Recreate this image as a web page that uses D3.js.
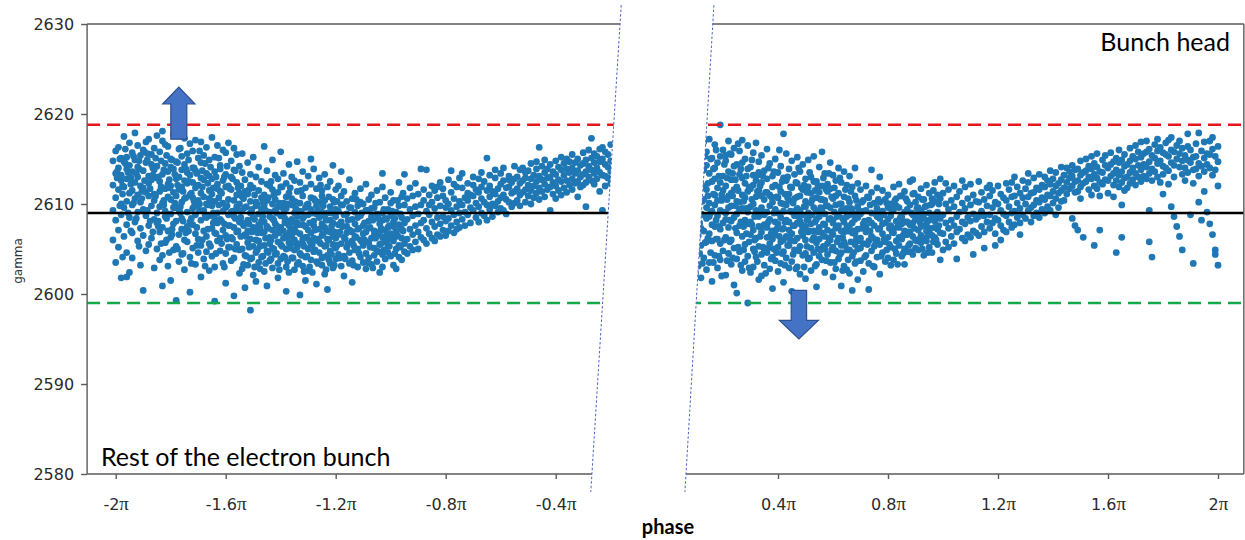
<!DOCTYPE html>
<html>
<head>
<meta charset="utf-8">
<script src="https://cdn.jsdelivr.net/npm/d3@7"></script>
<style>
  body { margin: 0; background: #fff; }
  svg { display: block; }
</style>
</head>
<body>
<svg id="chart" width="1245" height="540"></svg>
<script>
// axis ticks
const gammaTicks = [2580, 2590, 2600, 2610, 2620, 2630];
const leftTicks = [-2, -1.6, -1.2, -0.8, -0.4];
const leftTickLabels = ["-2", "-1.6", "-1.2", "-0.8", "-0.4"];
const rightTicks = [0.4, 0.8, 1.2, 1.6, 2];
const rightTickLabels = ["0.4", "0.8", "1.2", "1.6", "2"];

// reference lines (gamma)
const upperLimit = 2618.8;
const centerLine = 2609.0;
const lowerLimit = 2599.0;

// panel extents (phase / π) and the slanted break edges [phase, gamma]
const leftStart = -2.104;
const rightEnd = 2.094;
const leftBreak = [[-0.1618, 2632.1], [-0.2724, 2578]];
const rightBreak = [[0.1669, 2632.1], [0.0615, 2578]];

// arrows: phase, tail gamma, tip gamma
const arrowUp = [-1.7705, 2617.2, 2623.0];
const arrowDown = [0.476, 2600.4, 2595.0];

// scatter, phase (in units of π) with the gamma values read in that column
const leftColumns = [
  [-2.01, [2614.8, 2612.1, 2609.3, 2606.0]],
  [-2.00, [2615.9, 2613.4, 2610.7, 2608.2, 2603.5]],
  [-1.99, [2616.3, 2614.0, 2611.6, 2607.1, 2605.2]],
  [-1.98, [2613.2, 2610.0, 2608.8, 2612.6, 2601.8, 2615.1]],
  [-1.97, [2617.5, 2614.7, 2611.9, 2609.6, 2606.4]],
  [-1.96, [2615.2, 2612.8, 2604.6, 2610.3, 2613.9, 2607.7, 2601.9]],
  [-1.95, [2616.8, 2611.2, 2608.5, 2614.3, 2602.4]],
  [-1.94, [2613.6, 2609.9, 2606.8, 2615.7, 2611.5, 2604.0]],
  [-1.93, [2617.9, 2612.4, 2614.9, 2608.0, 2610.6]],
  [-1.92, [2614.1, 2616.5, 2611.0, 2605.9, 2609.1, 2613.0]],
  [-1.91, [2612.0, 2615.4, 2607.3, 2610.2, 2603.2]],
  [-1.90, [2616.0, 2613.7, 2609.4, 2606.5, 2611.8, 2600.4]],
  [-1.89, [2614.6, 2611.3, 2608.7, 2616.9, 2604.8]],
  [-1.88, [2617.2, 2613.1, 2610.9, 2607.6, 2612.3, 2605.5]],
  [-1.87, [2615.5, 2609.8, 2612.7, 2606.2, 2614.4]],
  [-1.86, [2613.8, 2616.2, 2611.1, 2608.3, 2602.9, 2610.4]],
  [-1.85, [2617.6, 2614.2, 2609.0, 2612.9, 2605.0, 2607.9]],
  [-1.84, [2615.8, 2612.5, 2609.7, 2606.9, 2603.8, 2611.4]],
  [-1.83, [2618.1, 2617.0, 2613.3, 2610.1, 2607.4, 2604.3, 2600.9]],
  [-1.82, [2614.5, 2611.7, 2608.6, 2605.7, 2616.6, 2609.2]],
  [-1.81, [2616.4, 2613.6, 2607.0, 2603.1, 2610.8, 2612.2]],
  [-1.80, [2615.0, 2612.0, 2608.9, 2606.3, 2601.5, 2614.1, 2610.5]],
  [-1.79, [2617.7, 2613.9, 2611.3, 2607.8, 2604.9, 2609.6]],
  [-1.78, [2614.7, 2610.9, 2608.1, 2605.3, 2612.8, 2599.3]],
  [-1.77, [2616.1, 2613.0, 2609.4, 2606.6, 2603.6, 2611.6]],
  [-1.76, [2615.3, 2611.9, 2608.4, 2604.4, 2613.8, 2607.2, 2610.2]],
  [-1.75, [2617.3, 2614.4, 2610.6, 2606.0, 2602.7, 2612.6]],
  [-1.74, [2615.6, 2612.3, 2609.1, 2605.8, 2607.5, 2613.5]],
  [-1.73, [2616.7, 2613.2, 2611.0, 2608.0, 2604.1, 2600.2]],
  [-1.72, [2614.0, 2610.7, 2607.7, 2605.1, 2612.4, 2609.5, 2615.9]],
  [-1.71, [2617.1, 2613.7, 2611.8, 2606.7, 2603.3, 2608.8]],
  [-1.70, [2615.1, 2612.1, 2609.9, 2606.1, 2604.6, 2610.4]],
  [-1.69, [2616.9, 2614.6, 2611.2, 2608.2, 2605.4, 2601.9, 2612.9]],
  [-1.68, [2615.4, 2612.7, 2609.3, 2607.0, 2603.9, 2610.8]],
  [-1.67, [2616.3, 2613.4, 2610.0, 2606.4, 2608.5, 2604.7]],
  [-1.66, [2614.9, 2611.5, 2608.7, 2605.6, 2602.6, 2613.1, 2610.6]],
  [-1.65, [2617.4, 2612.8, 2609.8, 2607.3, 2604.2, 2611.1]],
  [-1.64, [2615.2, 2613.6, 2610.3, 2606.8, 2603.0, 2608.4, 2599.2]],
  [-1.63, [2616.5, 2612.2, 2609.0, 2605.9, 2607.9, 2611.7]],
  [-1.62, [2614.3, 2611.4, 2608.3, 2604.8, 2613.9, 2606.2]],
  [-1.61, [2616.0, 2612.6, 2610.1, 2607.1, 2603.4, 2609.2]],
  [-1.60, [2615.7, 2613.3, 2609.6, 2606.5, 2604.5, 2611.9, 2601.2]],
  [-1.59, [2616.8, 2612.0, 2608.8, 2605.2, 2610.5, 2607.6]],
  [-1.58, [2614.8, 2611.6, 2609.1, 2606.3, 2603.7, 2613.0]],
  [-1.57, [2616.2, 2613.8, 2610.4, 2607.4, 2604.0, 2608.6, 2599.8]],
  [-1.56, [2615.5, 2612.4, 2609.7, 2605.5, 2611.0, 2606.9]],
  [-1.55, [2614.2, 2611.2, 2608.0, 2604.9, 2602.3, 2610.0]],
  [-1.54, [2613.5, 2610.8, 2607.9, 2605.0, 2602.8, 2609.3, 2615.6]],
  [-1.53, [2612.7, 2609.6, 2606.6, 2604.3, 2611.4, 2600.7]],
  [-1.52, [2614.6, 2611.1, 2608.2, 2605.7, 2603.2, 2607.0]],
  [-1.51, [2612.1, 2609.0, 2606.1, 2603.9, 2610.3, 2613.3, 2598.2]],
  [-1.50, [2615.2, 2611.8, 2608.5, 2605.3, 2602.1, 2607.4]],
  [-1.49, [2613.0, 2610.2, 2607.2, 2604.6, 2609.8, 2606.0, 2601.4]],
  [-1.48, [2614.1, 2611.5, 2608.9, 2605.9, 2603.5, 2607.7]],
  [-1.47, [2612.5, 2609.4, 2606.8, 2604.1, 2610.7, 2608.1]],
  [-1.46, [2616.4, 2611.0, 2608.0, 2605.4, 2602.5, 2606.9, 2609.9]],
  [-1.45, [2613.7, 2610.4, 2607.5, 2604.8, 2600.9, 2612.2]],
  [-1.44, [2612.0, 2609.1, 2606.3, 2603.7, 2608.6, 2605.6]],
  [-1.43, [2614.9, 2611.6, 2608.4, 2605.1, 2602.9, 2607.1, 2610.0]],
  [-1.42, [2613.2, 2610.5, 2607.8, 2604.4, 2606.5, 2609.3]],
  [-1.41, [2612.8, 2609.7, 2606.9, 2603.4, 2611.3, 2601.8, 2605.8]],
  [-1.40, [2615.8, 2611.9, 2608.7, 2605.5, 2607.4, 2603.9]],
  [-1.39, [2613.4, 2610.1, 2607.0, 2604.2, 2608.9, 2606.2]],
  [-1.38, [2612.3, 2609.5, 2606.6, 2603.0, 2610.8, 2605.0, 2600.3]],
  [-1.37, [2614.4, 2611.2, 2608.1, 2605.7, 2607.6, 2602.4]],
  [-1.36, [2613.0, 2609.9, 2606.4, 2604.0, 2608.3, 2610.6]],
  [-1.35, [2612.6, 2610.3, 2607.3, 2604.9, 2602.7, 2606.0, 2609.0]],
  [-1.34, [2614.7, 2611.4, 2608.6, 2605.2, 2603.3, 2607.9]],
  [-1.33, [2612.4, 2609.2, 2606.7, 2604.5, 2610.1, 2599.9]],
  [-1.32, [2613.6, 2610.9, 2607.7, 2605.6, 2603.1, 2608.4, 2606.1]],
  [-1.31, [2611.8, 2609.6, 2606.3, 2604.1, 2607.5, 2601.5]],
  [-1.30, [2613.1, 2610.0, 2607.1, 2605.0, 2602.6, 2608.8]],
  [-1.29, [2612.2, 2609.4, 2606.8, 2603.8, 2610.7, 2605.4, 2615.0]],
  [-1.28, [2613.9, 2610.6, 2607.6, 2604.7, 2606.2, 2608.1]],
  [-1.27, [2611.7, 2608.9, 2606.0, 2603.6, 2609.8, 2601.1]],
  [-1.26, [2612.9, 2610.2, 2607.2, 2604.6, 2605.8, 2608.5]],
  [-1.25, [2611.5, 2609.1, 2606.5, 2603.2, 2607.8, 2604.0, 2610.9]],
  [-1.24, [2613.3, 2610.4, 2607.4, 2605.3, 2602.2, 2608.7]],
  [-1.23, [2611.9, 2609.0, 2606.1, 2604.3, 2607.0, 2600.5]],
  [-1.22, [2612.5, 2609.7, 2606.9, 2604.8, 2603.4, 2608.2]],
  [-1.21, [2614.3, 2610.5, 2607.9, 2605.5, 2606.4, 2602.9]],
  [-1.20, [2611.6, 2608.6, 2606.2, 2603.9, 2609.4, 2605.1]],
  [-1.19, [2612.0, 2609.2, 2606.6, 2604.4, 2607.7]],
  [-1.18, [2610.9, 2608.0, 2605.6, 2603.1, 2609.9, 2613.6]],
  [-1.17, [2611.4, 2608.8, 2606.3, 2604.2, 2602.0]],
  [-1.16, [2610.3, 2607.5, 2605.2, 2608.9, 2606.8]],
  [-1.15, [2612.7, 2609.6, 2607.1, 2604.6, 2603.4]],
  [-1.14, [2610.6, 2608.3, 2605.9, 2603.7, 2606.9, 2601.3]],
  [-1.13, [2611.2, 2609.1, 2606.4, 2604.9, 2607.8]],
  [-1.12, [2609.8, 2607.2, 2605.0, 2603.0, 2608.5]],
  [-1.11, [2611.7, 2608.7, 2606.0, 2604.1, 2610.2]],
  [-1.10, [2610.0, 2607.6, 2605.4, 2603.5, 2606.7]],
  [-1.09, [2612.2, 2609.3, 2606.9, 2604.5, 2602.8]],
  [-1.08, [2610.5, 2608.1, 2605.7, 2607.3, 2604.0]],
  [-1.07, [2611.0, 2608.6, 2606.2, 2603.3, 2609.5]],
  [-1.06, [2609.6, 2607.0, 2605.1, 2604.3, 2606.5]],
  [-1.05, [2611.5, 2608.9, 2606.6, 2604.8, 2603.6]],
  [-1.04, [2610.2, 2607.8, 2605.5, 2606.9, 2602.4]],
  [-1.03, [2613.4, 2611.9, 2609.0, 2606.3, 2604.4, 2608.2, 2603.0]],
  [-1.02, [2610.7, 2608.4, 2605.8, 2603.9, 2607.1]],
  [-1.01, [2609.4, 2607.4, 2605.3, 2606.0, 2604.6]],
  [-1.00, [2611.3, 2608.7, 2606.7, 2604.2, 2610.1]],
  [-0.99, [2610.4, 2608.0, 2605.9, 2603.2, 2607.5]],
  [-0.98, [2609.1, 2607.0, 2605.0, 2606.4, 2602.8]],
  [-0.97, [2612.4, 2609.8, 2607.7, 2605.4, 2604.1]],
  [-0.96, [2610.8, 2608.5, 2606.2, 2607.2, 2603.8]],
  [-0.95, [2609.9, 2607.9, 2605.6, 2604.7, 2613.3]],
  [-0.94, [2610.6, 2608.3, 2606.1, 2604.5]],
  [-0.93, [2609.4, 2607.2, 2605.3, 2611.8]],
  [-0.92, [2610.9, 2608.7, 2606.6, 2604.9]],
  [-0.91, [2609.7, 2607.6, 2605.8, 2612.3]],
  [-0.90, [2611.1, 2608.9, 2606.9, 2605.0]],
  [-0.89, [2613.9, 2609.9, 2607.9, 2606.3]],
  [-0.88, [2610.4, 2608.2, 2606.0, 2611.6]],
  [-0.87, [2613.8, 2609.2, 2607.3, 2605.6]],
  [-0.86, [2611.0, 2608.8, 2606.7, 2609.9]],
  [-0.85, [2610.2, 2608.0, 2606.2, 2612.0]],
  [-0.84, [2611.5, 2609.5, 2607.5, 2605.9]],
  [-0.83, [2610.7, 2608.5, 2606.6, 2611.9]],
  [-0.82, [2612.4, 2609.8, 2607.8, 2606.4]],
  [-0.81, [2610.9, 2608.6, 2607.1, 2611.7]],
  [-0.80, [2609.6, 2608.1, 2606.5, 2610.4]],
  [-0.79, [2612.7, 2610.0, 2608.4, 2607.0]],
  [-0.78, [2611.3, 2609.3, 2607.6, 2613.7]],
  [-0.77, [2610.6, 2608.8, 2606.8, 2612.2]],
  [-0.76, [2611.9, 2609.7, 2608.0, 2607.2]],
  [-0.75, [2610.3, 2609.0, 2607.4, 2612.9]],
  [-0.74, [2611.8, 2609.9, 2608.3, 2613.4]],
  [-0.73, [2610.7, 2609.1, 2607.6]],
  [-0.72, [2612.3, 2610.4, 2608.8, 2611.2]],
  [-0.71, [2611.0, 2609.6, 2607.9]],
  [-0.70, [2613.0, 2610.9, 2609.3, 2612.1]],
  [-0.69, [2611.6, 2610.1, 2608.5]],
  [-0.68, [2612.8, 2611.3, 2609.7, 2608.0]],
  [-0.67, [2611.9, 2610.6, 2609.0, 2613.5]],
  [-0.66, [2612.5, 2610.2, 2608.7]],
  [-0.65, [2615.1, 2611.5, 2609.9, 2608.2]],
  [-0.64, [2612.0, 2610.8, 2609.4, 2613.2]],
  [-0.63, [2611.4, 2610.0, 2608.6]],
  [-0.62, [2612.9, 2611.1, 2609.8, 2613.8]],
  [-0.61, [2611.7, 2610.3, 2609.1]],
  [-0.60, [2613.4, 2612.2, 2610.7, 2609.5]],
  [-0.59, [2612.6, 2611.0, 2609.3, 2614.0]],
  [-0.58, [2611.8, 2610.5, 2608.9]],
  [-0.57, [2613.1, 2611.9, 2610.2, 2612.7]],
  [-0.56, [2612.4, 2611.2, 2609.7]],
  [-0.55, [2614.2, 2612.8, 2611.4, 2610.1]],
  [-0.54, [2613.0, 2611.7, 2610.4]],
  [-0.53, [2612.3, 2611.0, 2613.8, 2609.8]],
  [-0.52, [2614.0, 2612.6, 2611.3]],
  [-0.51, [2612.9, 2611.6, 2610.2, 2613.5]],
  [-0.50, [2613.7, 2612.1, 2610.9]],
  [-0.49, [2614.5, 2612.8, 2611.5, 2610.0]],
  [-0.48, [2613.2, 2612.0, 2610.7]],
  [-0.47, [2612.5, 2613.9, 2611.2, 2614.7]],
  [-0.46, [2616.3, 2613.1, 2611.8, 2610.5]],
  [-0.45, [2614.2, 2612.7, 2611.4]],
  [-0.44, [2613.5, 2612.2, 2610.8, 2614.9]],
  [-0.43, [2612.9, 2611.6, 2613.9]],
  [-0.42, [2614.4, 2613.0, 2611.9, 2609.3]],
  [-0.41, [2613.6, 2612.4, 2611.1]],
  [-0.40, [2614.8, 2613.3, 2612.0, 2610.6]],
  [-0.39, [2614.1, 2612.7, 2611.5]],
  [-0.38, [2615.2, 2613.8, 2612.5, 2611.0]],
  [-0.37, [2614.5, 2613.2, 2611.8]],
  [-0.36, [2613.9, 2612.6, 2615.0, 2611.3]],
  [-0.35, [2614.7, 2613.5, 2612.1]],
  [-0.34, [2615.5, 2614.0, 2612.8, 2611.6]],
  [-0.33, [2613.4, 2612.3, 2614.6]],
  [-0.32, [2615.0, 2613.7, 2612.5, 2610.8]],
  [-0.31, [2614.3, 2613.0, 2611.9]],
  [-0.30, [2615.7, 2614.5, 2613.3, 2612.1]],
  [-0.29, [2614.9, 2613.6, 2612.4, 2609.7]],
  [-0.28, [2616.0, 2614.2, 2613.0]],
  [-0.27, [2617.3, 2615.1, 2613.8, 2612.6]],
  [-0.26, [2614.6, 2613.4, 2612.2, 2615.6]],
  [-0.25, [2615.3, 2614.0, 2612.8]],
  [-0.24, [2616.1, 2614.7, 2613.5, 2611.4]],
  [-0.23, [2616.3, 2615.0, 2613.2, 2609.3]],
  [-0.22, [2614.4, 2613.1, 2615.8, 2612.0]],
  [-0.21, [2615.5, 2614.1, 2612.9]],
  [-0.20, [2616.6, 2614.8, 2613.6, 2612.3]]
];

// denser core of the left cloud, read between the columns above
const leftCoreColumns = [
  [-1.995, [2612.9, 2613.6]], [-1.985, [2615.0, 2609.8]], [-1.975, [2611.1, 2612.0, 2604.1]],
  [-1.965, [2616.1, 2614.5]], [-1.955, [2609.0, 2613.5]], [-1.945, [2612.2, 2612.9, 2607.0]],
  [-1.935, [2615.3, 2610.1]], [-1.925, [2613.4, 2608.4]], [-1.915, [2614.8, 2613.9, 2605.3]],
  [-1.905, [2611.4, 2610.6]], [-1.895, [2615.8, 2612.6]], [-1.885, [2609.3, 2614.9, 2615.6]],
  [-1.875, [2611.7, 2608.1]], [-1.865, [2614.0, 2613.2, 2606.9]], [-1.855, [2610.9, 2615.1]],
  [-1.845, [2613.0, 2608.1, 2607.5]], [-1.835, [2611.9, 2614.8, 2605.6]], [-1.825, [2610.4, 2609.9, 2613.8]],
  [-1.815, [2606.0, 2615.4, 2608.4]], [-1.805, [2612.7, 2611.8, 2604.6]], [-1.795, [2607.2, 2614.9, 2606.6]],
  [-1.785, [2610.1, 2613.3, 2609.6]], [-1.775, [2612.1, 2605.0, 2614.6]], [-1.765, [2609.0, 2609.7, 2616.2]],
  [-1.755, [2608.1, 2611.4, 2604.5]], [-1.745, [2613.9, 2610.7, 2606.8]], [-1.735, [2607.0, 2612.5, 2614.9]],
  [-1.725, [2611.2, 2608.4, 2603.4]], [-1.715, [2614.0, 2609.7, 2610.3]], [-1.705, [2607.4, 2613.4, 2605.4]],
  [-1.695, [2610.0, 2609.3, 2615.9]], [-1.685, [2606.0, 2611.9, 2613.7]], [-1.675, [2608.8, 2614.5, 2603.1]],
  [-1.665, [2612.3, 2607.2, 2609.9]], [-1.655, [2605.3, 2610.4, 2614.1]], [-1.645, [2609.0, 2611.8, 2607.9]],
  [-1.635, [2613.0, 2604.5, 2606.7]], [-1.625, [2610.7, 2609.9, 2615.1]], [-1.615, [2605.6, 2611.2, 2608.1]],
  [-1.605, [2607.8, 2613.0, 2603.0]], [-1.595, [2609.8, 2614.2, 2606.1]], [-1.585, [2611.7, 2607.6, 2605.2]],
  [-1.575, [2612.8, 2609.2, 2606.1]], [-1.565, [2605.0, 2608.4, 2613.7]], [-1.555, [2607.0, 2611.8, 2609.3]],
  [-1.545, [2606.4, 2608.5, 2612.0]], [-1.535, [2603.3, 2607.6, 2610.6]], [-1.525, [2609.7, 2606.4, 2604.2]],
  [-1.515, [2607.8, 2605.2, 2611.6]], [-1.505, [2604.0, 2609.4, 2606.9]], [-1.495, [2608.3, 2603.0, 2611.0]],
  [-1.485, [2606.8, 2609.9, 2604.9]], [-1.475, [2605.3, 2607.4, 2602.8]], [-1.465, [2610.2, 2604.2, 2608.6]],
  [-1.455, [2606.2, 2609.3, 2603.4]], [-1.445, [2607.3, 2610.7, 2604.6]], [-1.435, [2603.9, 2606.0, 2612.5]],
  [-1.425, [2608.2, 2605.0, 2611.0]], [-1.415, [2607.6, 2604.5, 2609.0]], [-1.405, [2610.1, 2606.8, 2602.7]],
  [-1.395, [2605.3, 2609.6, 2611.9]], [-1.385, [2607.9, 2604.1, 2608.4]], [-1.375, [2606.3, 2610.0, 2603.6]],
  [-1.365, [2605.1, 2607.0, 2611.8]], [-1.355, [2608.0, 2604.0, 2605.7]], [-1.345, [2606.9, 2610.2, 2609.5]],
  [-1.335, [2603.5, 2607.7, 2605.6]], [-1.325, [2609.1, 2604.3, 2611.5]], [-1.315, [2605.3, 2608.6, 2602.5]],
  [-1.305, [2606.3, 2609.9, 2604.2]], [-1.295, [2607.9, 2603.0, 2605.9]], [-1.285, [2609.0, 2605.5, 2602.4]],
  [-1.275, [2607.1, 2604.9, 2610.4]], [-1.265, [2603.4, 2606.1, 2609.4]], [-1.255, [2608.7, 2605.6, 2612.1]],
  [-1.245, [2604.1, 2606.7, 2609.8]], [-1.235, [2608.2, 2602.7, 2605.4]], [-1.225, [2606.0, 2610.8, 2603.8]],
  [-1.215, [2604.4, 2607.5, 2609.0]], [-1.205, [2606.9, 2603.2, 2610.2]],
  [-1.195, [2605.4, 2610.3]], [-1.185, [2606.9, 2604.0]], [-1.175, [2607.5, 2609.9]],
  [-1.165, [2603.9, 2606.1]], [-1.155, [2608.2, 2605.6]], [-1.145, [2607.0, 2609.6]],
  [-1.135, [2603.2, 2605.4]], [-1.125, [2606.3, 2610.5]], [-1.115, [2607.3, 2604.5]],
  [-1.105, [2609.0, 2605.8]], [-1.095, [2606.0, 2607.9]], [-1.085, [2603.5, 2609.3]],
  [-1.075, [2605.2, 2607.4]], [-1.065, [2608.2, 2602.9]], [-1.055, [2606.2, 2610.1]],
  [-1.045, [2604.7, 2608.4]], [-1.035, [2607.3, 2605.6]], [-1.025, [2609.4, 2604.9]],
  [-1.015, [2606.6, 2608.3]], [-1.005, [2605.3, 2607.6]], [-0.995, [2609.2, 2606.4]],
  [-0.985, [2604.5, 2608.4]], [-0.975, [2606.5, 2610.4]], [-0.965, [2608.9, 2605.2]],
  [-0.955, [2607.0, 2611.2]]
];

const rightColumns = [
  [0.10, [2614.9, 2611.3, 2608.0, 2604.6, 2602.3]],
  [0.11, [2616.4, 2613.0, 2609.7, 2606.5, 2603.1, 2610.8]],
  [0.12, [2615.6, 2612.2, 2608.9, 2605.4, 2601.8, 2607.3]],
  [0.13, [2616.9, 2613.8, 2610.5, 2607.0, 2604.0, 2611.9]],
  [0.14, [2614.3, 2611.6, 2608.4, 2605.8, 2602.7, 2609.6, 2615.8]],
  [0.15, [2617.2, 2613.4, 2610.1, 2606.7, 2603.5, 2608.6]],
  [0.16, [2615.1, 2612.5, 2609.2, 2605.9, 2601.4, 2607.7]],
  [0.17, [2616.6, 2614.0, 2611.0, 2607.5, 2604.3, 2609.9, 2612.8]],
  [0.18, [2614.6, 2611.8, 2608.7, 2606.1, 2602.9, 2610.4]],
  [0.19, [2618.8, 2615.3, 2612.4, 2609.3, 2605.6, 2603.8, 2607.2]],
  [0.20, [2616.0, 2613.1, 2610.6, 2607.9, 2604.8, 2611.5]],
  [0.21, [2614.8, 2612.0, 2609.0, 2606.3, 2602.1, 2608.3, 2615.4]],
  [0.22, [2617.0, 2613.6, 2610.9, 2607.4, 2604.5, 2609.6]],
  [0.23, [2615.5, 2612.7, 2609.8, 2606.0, 2603.3, 2611.2, 2608.1]],
  [0.24, [2616.2, 2614.2, 2611.6, 2608.5, 2605.1, 2601.0]],
  [0.25, [2614.4, 2611.9, 2608.9, 2606.8, 2603.9, 2600.1, 2610.3]],
  [0.26, [2615.9, 2613.3, 2610.2, 2607.6, 2604.7, 2609.4]],
  [0.27, [2617.1, 2612.9, 2609.5, 2606.4, 2602.6, 2611.0, 2614.6]],
  [0.28, [2615.0, 2612.3, 2608.2, 2605.5, 2603.6, 2610.7]],
  [0.29, [2616.5, 2613.9, 2611.4, 2607.8, 2604.2, 2599.0, 2609.1]],
  [0.30, [2614.1, 2611.7, 2609.7, 2606.6, 2602.4, 2608.0]],
  [0.31, [2615.7, 2613.2, 2610.0, 2607.1, 2605.0, 2612.1, 2603.0]],
  [0.32, [2616.8, 2612.6, 2609.3, 2606.2, 2604.1, 2610.8]],
  [0.33, [2614.7, 2611.5, 2608.6, 2605.3, 2601.6, 2607.5, 2613.5]],
  [0.34, [2615.4, 2612.4, 2609.6, 2606.9, 2604.4, 2602.0, 2610.9]],
  [0.35, [2613.7, 2610.5, 2607.7, 2605.0, 2603.2, 2608.8]],
  [0.36, [2616.1, 2612.8, 2609.1, 2606.3, 2604.6, 2611.3, 2607.4]],
  [0.37, [2614.5, 2611.0, 2608.3, 2605.6, 2602.8, 2609.8]],
  [0.38, [2613.1, 2610.2, 2607.0, 2604.1, 2611.9, 2606.1, 2600.6]],
  [0.39, [2615.0, 2612.1, 2609.4, 2606.6, 2603.7, 2608.0]],
  [0.40, [2613.5, 2610.7, 2607.8, 2605.2, 2602.5, 2609.0]],
  [0.41, [2614.2, 2611.4, 2608.5, 2605.8, 2603.4, 2610.1]],
  [0.42, [2617.8, 2612.9, 2610.0, 2607.3, 2604.7, 2609.2, 2606.0, 2601.3]],
  [0.43, [2615.6, 2612.6, 2609.9, 2606.4, 2604.0, 2608.2]],
  [0.44, [2613.9, 2611.1, 2608.0, 2605.4, 2602.9, 2610.4, 2607.1]],
  [0.45, [2614.8, 2611.8, 2609.1, 2606.7, 2603.6, 2600.3]],
  [0.46, [2613.3, 2610.6, 2607.6, 2604.9, 2608.7, 2605.9]],
  [0.47, [2615.2, 2612.3, 2609.5, 2606.2, 2603.0, 2610.8, 2607.9]],
  [0.48, [2613.6, 2610.9, 2608.1, 2605.3, 2602.2, 2609.3]],
  [0.49, [2614.4, 2611.6, 2608.8, 2606.5, 2604.3, 2607.2]],
  [0.50, [2612.8, 2610.3, 2607.5, 2604.5, 2609.7, 2601.7, 2606.0]],
  [0.51, [2614.9, 2611.9, 2609.0, 2606.9, 2603.9, 2608.4]],
  [0.52, [2613.0, 2610.1, 2607.8, 2605.1, 2602.6, 2611.2]],
  [0.53, [2615.3, 2612.5, 2609.6, 2606.3, 2604.6, 2607.0]],
  [0.54, [2612.5, 2610.7, 2608.3, 2605.7, 2603.3, 2609.2, 2600.8]],
  [0.55, [2614.1, 2611.3, 2608.6, 2606.1, 2604.2, 2607.4]],
  [0.56, [2615.8, 2612.0, 2609.4, 2606.8, 2603.8, 2610.5]],
  [0.57, [2613.4, 2610.4, 2607.7, 2605.0, 2602.4, 2608.9, 2606.4]],
  [0.58, [2612.2, 2609.8, 2607.1, 2604.4, 2611.4, 2605.6]],
  [0.59, [2614.6, 2611.7, 2608.4, 2606.0, 2603.5, 2609.6]],
  [0.60, [2613.2, 2610.6, 2607.9, 2605.2, 2601.9, 2608.2, 2606.6]],
  [0.61, [2612.6, 2609.9, 2607.3, 2604.8, 2602.8, 2610.9]],
  [0.62, [2614.0, 2611.2, 2608.7, 2606.2, 2603.9, 2607.6]],
  [0.63, [2612.4, 2610.0, 2607.0, 2604.6, 2609.3, 2605.4, 2600.9]],
  [0.64, [2613.6, 2610.8, 2608.0, 2605.8, 2603.1, 2606.9]],
  [0.65, [2612.1, 2609.5, 2607.4, 2604.9, 2608.6, 2602.7]],
  [0.66, [2613.1, 2610.2, 2607.6, 2604.9, 2602.3, 2608.8]],
  [0.67, [2611.9, 2609.4, 2606.8, 2604.2, 2600.4, 2607.9]],
  [0.68, [2614.0, 2610.9, 2608.3, 2605.5, 2603.4, 2606.7]],
  [0.69, [2612.3, 2609.7, 2607.2, 2605.0, 2601.6, 2608.5]],
  [0.70, [2611.6, 2608.9, 2606.2, 2603.7, 2605.1]],
  [0.71, [2610.4, 2607.8, 2605.6, 2602.5, 2609.2]],
  [0.72, [2612.0, 2609.3, 2606.9, 2604.3, 2607.5]],
  [0.73, [2610.7, 2608.2, 2605.9, 2603.4, 2600.5]],
  [0.74, [2613.8, 2611.3, 2609.0, 2606.4, 2604.8, 2607.9]],
  [0.75, [2610.1, 2607.6, 2605.3, 2603.0]],
  [0.76, [2611.8, 2608.6, 2606.0, 2604.1, 2609.5]],
  [0.77, [2613.0, 2610.2, 2607.3, 2605.5, 2602.2, 2608.4]],
  [0.78, [2611.5, 2609.2, 2606.7, 2604.6, 2607.8]],
  [0.79, [2610.5, 2607.9, 2605.8, 2603.6]],
  [0.80, [2611.0, 2608.3, 2606.3, 2604.0, 2609.6]],
  [0.81, [2610.0, 2607.6, 2605.2, 2603.2, 2608.7]],
  [0.82, [2611.9, 2609.4, 2606.8, 2603.8, 2607.2]],
  [0.83, [2610.6, 2608.1, 2605.9, 2604.5, 2609.8]],
  [0.84, [2612.2, 2609.6, 2607.4, 2605.4, 2606.3]],
  [0.85, [2610.9, 2608.5, 2606.1, 2604.2, 2607.8]],
  [0.86, [2611.4, 2609.1, 2607.0, 2605.0, 2603.3]],
  [0.87, [2610.3, 2608.0, 2606.6, 2604.7, 2609.4]],
  [0.88, [2612.5, 2609.9, 2607.7, 2605.6, 2606.9]],
  [0.89, [2612.7, 2611.1, 2608.8, 2606.4, 2604.4, 2607.9]],
  [0.90, [2610.2, 2608.3, 2606.0, 2605.1]],
  [0.91, [2610.8, 2608.6, 2607.1, 2604.9, 2609.6]],
  [0.92, [2611.7, 2609.3, 2607.5, 2605.7, 2606.5]],
  [0.93, [2610.5, 2608.4, 2606.2, 2604.3, 2608.9]],
  [0.94, [2612.1, 2609.8, 2607.8, 2605.9, 2607.0]],
  [0.95, [2611.2, 2609.0, 2606.9, 2605.2, 2608.2]],
  [0.96, [2610.6, 2608.7, 2606.5, 2604.6, 2610.0]],
  [0.97, [2612.4, 2610.3, 2608.1, 2606.3, 2607.4]],
  [0.98, [2611.0, 2609.1, 2607.2, 2605.5, 2608.6]],
  [0.99, [2612.8, 2610.6, 2608.4, 2603.8, 2606.8]],
  [1.00, [2611.2, 2608.8, 2606.7, 2604.9]],
  [1.01, [2610.0, 2607.9, 2605.8, 2612.3]],
  [1.02, [2611.6, 2609.4, 2607.3, 2605.2]],
  [1.03, [2610.4, 2608.2, 2606.4]],
  [1.04, [2612.0, 2609.7, 2607.6, 2605.6]],
  [1.05, [2610.8, 2608.6, 2606.9, 2603.9]],
  [1.06, [2611.4, 2609.1, 2607.2]],
  [1.07, [2610.1, 2608.0, 2606.2, 2612.6]],
  [1.08, [2611.9, 2609.5, 2607.8, 2605.9]],
  [1.09, [2610.6, 2608.5, 2606.6]],
  [1.10, [2612.2, 2609.9, 2608.1, 2606.3]],
  [1.11, [2611.0, 2608.9, 2607.0, 2604.4]],
  [1.12, [2610.3, 2608.3, 2606.8]],
  [1.13, [2612.5, 2610.2, 2608.6, 2606.5]],
  [1.14, [2611.3, 2609.2, 2607.5]],
  [1.15, [2610.5, 2608.7, 2606.9, 2605.1]],
  [1.16, [2611.8, 2609.8, 2608.0]],
  [1.17, [2610.9, 2608.8, 2607.3, 2612.1]],
  [1.18, [2611.5, 2609.6, 2607.9]],
  [1.19, [2610.2, 2608.4, 2606.7, 2605.4]],
  [1.20, [2612.0, 2610.0, 2608.2]],
  [1.21, [2611.1, 2609.3, 2607.6, 2606.0]],
  [1.22, [2610.7, 2608.9, 2607.1]],
  [1.23, [2612.3, 2610.4, 2608.7, 2606.9]],
  [1.24, [2611.6, 2609.7, 2608.0]],
  [1.25, [2610.8, 2609.0, 2607.4, 2612.4]],
  [1.26, [2613.0, 2610.9, 2609.2, 2607.7]],
  [1.27, [2611.9, 2610.1, 2608.5]],
  [1.28, [2611.2, 2609.5, 2607.9, 2606.6]],
  [1.29, [2612.6, 2610.7, 2608.8]],
  [1.30, [2611.7, 2610.0, 2608.4]],
  [1.31, [2612.4, 2610.8, 2609.3, 2613.4]],
  [1.32, [2611.2, 2609.6, 2608.0]],
  [1.33, [2612.9, 2611.3, 2609.9, 2608.7]],
  [1.34, [2611.8, 2610.4, 2609.0]],
  [1.35, [2613.3, 2611.6, 2610.2, 2608.5]],
  [1.36, [2612.1, 2610.7, 2609.4]],
  [1.37, [2613.0, 2611.9, 2610.5, 2609.0]],
  [1.38, [2612.6, 2611.0, 2609.7]],
  [1.39, [2613.7, 2612.2, 2610.9, 2609.3]],
  [1.40, [2612.8, 2611.4, 2610.1]],
  [1.41, [2613.5, 2612.0, 2610.6, 2608.8]],
  [1.42, [2612.3, 2611.2, 2609.6]],
  [1.43, [2614.1, 2612.7, 2611.5, 2610.3]],
  [1.44, [2613.2, 2611.8, 2610.4]],
  [1.45, [2614.0, 2612.4, 2611.1]],
  [1.46, [2613.6, 2612.9, 2611.7]],
  [1.47, [2614.3, 2613.1, 2612.0, 2608.4]],
  [1.48, [2613.8, 2612.5, 2611.3, 2607.6]],
  [1.49, [2613.9, 2612.6, 2611.4, 2607.1]],
  [1.50, [2614.8, 2613.2, 2611.9, 2610.6]],
  [1.51, [2613.5, 2612.3, 2606.3]],
  [1.52, [2615.0, 2613.7, 2612.5]],
  [1.53, [2614.2, 2613.0, 2611.6]],
  [1.54, [2615.3, 2613.9, 2612.8, 2611.0]],
  [1.55, [2614.5, 2613.3, 2612.0, 2605.4]],
  [1.56, [2615.6, 2614.1, 2612.9, 2611.7]],
  [1.57, [2613.6, 2612.4, 2610.9, 2607.1]],
  [1.58, [2614.9, 2613.5, 2612.2]],
  [1.59, [2615.4, 2614.3, 2612.7]],
  [1.60, [2614.0, 2612.6, 2611.2]],
  [1.61, [2615.7, 2614.4, 2613.1]],
  [1.62, [2614.7, 2613.4, 2612.1, 2610.8]],
  [1.63, [2615.1, 2613.8, 2612.6, 2604.6]],
  [1.64, [2616.0, 2614.6, 2613.2, 2611.9]],
  [1.65, [2614.9, 2613.6, 2612.4, 2609.9, 2606.3]],
  [1.66, [2615.5, 2614.2, 2612.9, 2611.5]],
  [1.67, [2614.4, 2613.0, 2611.8]],
  [1.68, [2616.2, 2614.8, 2613.5, 2612.3]],
  [1.69, [2615.3, 2614.0, 2612.7]],
  [1.70, [2616.5, 2615.0, 2613.4, 2612.1]],
  [1.71, [2615.8, 2614.3, 2613.0]],
  [1.72, [2616.9, 2615.2, 2613.8, 2612.5]],
  [1.73, [2615.6, 2614.4, 2613.1]],
  [1.74, [2617.0, 2615.8, 2614.1, 2612.8]],
  [1.75, [2616.1, 2614.7, 2613.4, 2609.3, 2605.8]],
  [1.76, [2615.4, 2613.9, 2612.6, 2604.1]],
  [1.77, [2616.6, 2615.1, 2613.6]],
  [1.78, [2617.2, 2615.9, 2614.5, 2613.0]],
  [1.79, [2616.3, 2614.8, 2612.4]],
  [1.80, [2615.7, 2614.2, 2613.3, 2611.1]],
  [1.81, [2616.8, 2615.5, 2614.0]],
  [1.82, [2617.1, 2615.3, 2613.7, 2612.2]],
  [1.83, [2617.4, 2616.0, 2614.6, 2609.7]],
  [1.84, [2615.8, 2614.3, 2613.0, 2608.6]],
  [1.85, [2616.5, 2615.0, 2607.5]],
  [1.86, [2617.0, 2615.6, 2614.1, 2606.4]],
  [1.87, [2616.2, 2614.8, 2613.3, 2604.9]],
  [1.88, [2615.4, 2614.0, 2612.6]],
  [1.89, [2617.8, 2616.4, 2614.9, 2613.5]],
  [1.90, [2616.0, 2614.6, 2608.8]],
  [1.91, [2615.2, 2613.8, 2612.3, 2603.4]],
  [1.92, [2616.7, 2615.3, 2613.9]],
  [1.93, [2617.9, 2614.5, 2613.1, 2610.2]],
  [1.94, [2615.9, 2614.2, 2608.2]],
  [1.95, [2616.9, 2615.1, 2613.6, 2611.4]],
  [1.96, [2615.6, 2614.4, 2609.1]],
  [1.97, [2617.0, 2615.5, 2614.0, 2607.8]],
  [1.98, [2617.4, 2616.1, 2613.2, 2606.6]],
  [1.99, [2615.3, 2613.8, 2604.9, 2604.4]],
  [2.00, [2616.4, 2614.7, 2612.0, 2603.2]]
];

// denser core of the right cloud, read between the columns above
const rightCoreColumns = [
  [0.105, [2609.3, 2612.8]], [0.115, [2604.5, 2607.9, 2615.0]], [0.125, [2610.3, 2613.7, 2603.4]],
  [0.135, [2608.7, 2615.3, 2605.7]], [0.145, [2606.2, 2612.3, 2610.9]], [0.155, [2604.6, 2615.0, 2609.0]],
  [0.165, [2611.1, 2603.5, 2613.9]], [0.175, [2606.1, 2608.2, 2616.0]], [0.185, [2613.1, 2604.2, 2607.5]],
  [0.195, [2610.4, 2611.0, 2602.0]], [0.205, [2606.0, 2614.4, 2609.1]], [0.215, [2610.5, 2603.7, 2612.9]],
  [0.225, [2605.8, 2615.6, 2608.2]], [0.235, [2613.4, 2604.0, 2610.9]], [0.245, [2607.3, 2609.8, 2612.7]],
  [0.255, [2605.2, 2616.7, 2611.5]], [0.265, [2608.0, 2603.2, 2613.9]], [0.275, [2607.5, 2610.3, 2604.9]],
  [0.285, [2613.1, 2609.5, 2606.7]], [0.295, [2605.8, 2611.9, 2602.9]], [0.305, [2610.5, 2614.9, 2607.7]],
  [0.315, [2606.0, 2608.6, 2604.7]], [0.325, [2611.4, 2613.2, 2603.6]], [0.335, [2609.1, 2606.4, 2612.0]],
  [0.345, [2607.5, 2613.1, 2605.2]], [0.355, [2611.3, 2609.1, 2602.3]], [0.365, [2608.0, 2605.1, 2614.0]],
  [0.375, [2610.8, 2606.7, 2603.9]], [0.385, [2609.0, 2613.6, 2605.0]], [0.395, [2604.6, 2610.8, 2607.2]],
  [0.405, [2606.4, 2611.9, 2616.0]], [0.415, [2607.2, 2612.5, 2604.5]], [0.425, [2611.1, 2608.0, 2603.2]],
  [0.435, [2605.4, 2610.7, 2613.0]], [0.445, [2609.2, 2606.0, 2611.9]], [0.455, [2607.6, 2604.4, 2610.1]],
  [0.465, [2612.4, 2609.3, 2602.8]], [0.475, [2604.8, 2608.6, 2614.0]], [0.485, [2606.9, 2611.8, 2607.7]],
  [0.495, [2609.7, 2603.0, 2612.1]], [0.505, [2605.3, 2608.2, 2611.3]], [0.515, [2607.0, 2613.5, 2604.0]],
  [0.525, [2610.5, 2606.0, 2608.8]], [0.535, [2603.1, 2608.0, 2611.5]], [0.545, [2606.9, 2612.0, 2605.0]],
  [0.555, [2609.6, 2604.9, 2610.5]], [0.565, [2607.8, 2605.3, 2612.9]], [0.575, [2609.8, 2611.6, 2603.7]],
  [0.585, [2606.2, 2608.3, 2613.4]], [0.595, [2604.9, 2610.8, 2606.9]], [0.605, [2609.1, 2603.5, 2611.8]],
  [0.615, [2605.8, 2608.6, 2607.4]], [0.625, [2610.0, 2604.4, 2612.9]], [0.635, [2606.3, 2608.4, 2602.6]],
  [0.645, [2609.4, 2611.6, 2605.4]], [0.655, [2607.0, 2603.8, 2610.6]], [0.665, [2605.8, 2609.5, 2611.4]],
  [0.675, [2608.9, 2604.6, 2607.0]], [0.685, [2603.6, 2610.4, 2606.1]], [0.695, [2609.2, 2605.9]],
  [0.705, [2607.3, 2610.2]], [0.715, [2604.1, 2608.1]], [0.725, [2605.5, 2610.8]],
  [0.735, [2607.0, 2609.9]], [0.745, [2603.1, 2606.2]], [0.755, [2608.9, 2605.6]],
  [0.765, [2607.2, 2610.5]], [0.775, [2604.2, 2609.0]], [0.785, [2606.0, 2608.8]],
  [0.795, [2610.1, 2604.9]], [0.805, [2607.3, 2605.5]], [0.815, [2609.2, 2606.9]],
  [0.825, [2605.0, 2610.4]], [0.835, [2607.5, 2603.3]], [0.845, [2608.5, 2610.9]],
  [0.855, [2606.5, 2604.5]], [0.865, [2608.0, 2610.6]], [0.875, [2605.4, 2606.9]],
  [0.885, [2609.0, 2604.7]], [0.895, [2607.3, 2611.2]], [0.905, [2605.9, 2609.5]],
  [0.915, [2606.1, 2608.0]], [0.925, [2610.5, 2605.0]], [0.935, [2607.6, 2609.7]],
  [0.945, [2606.5, 2604.6]], [0.955, [2609.9, 2607.3]], [0.965, [2605.8, 2611.5]],
  [0.975, [2608.9, 2606.0]], [0.985, [2607.6, 2610.0]]
];

const toPoints = cols => cols.flatMap(([p, gs]) => gs.map(g => ({ phase: p, gamma: g })));
const leftPoints = toPoints(leftColumns.concat(leftCoreColumns));
const rightPoints = toPoints(rightColumns.concat(rightCoreColumns));

const svg = d3.select("#chart");
const W = 1245, H = 540;
const y = d3.scaleLinear().domain([2580, 2630]).range([474, 24]);
const xL = d3.scaleLinear().domain([-2, -0.4]).range([115.7, 555.7]);
const xR = d3.scaleLinear().domain([0.4, 2]).range([778, 1218]);

const dotColor = "#1f77b4";
const spineColor = "#5a5a5a";

// x position of a slanted break edge at a given pixel row
function edgeX(br, sx, yy) {
  const x1 = sx(br[0][0]), y1 = y(br[0][1]), x2 = sx(br[1][0]), y2 = y(br[1][1]);
  return x1 + (x2 - x1) * (yy - y1) / (y2 - y1);
}

const defs = svg.append("defs");
defs.append("clipPath").attr("id", "clipL").append("polygon")
  .attr("points", `0,0 ${edgeX(leftBreak, xL, 0)},0 ${edgeX(leftBreak, xL, H)},${H} 0,${H}`);
defs.append("clipPath").attr("id", "clipR").append("polygon")
  .attr("points", `${edgeX(rightBreak, xR, 0)},0 ${W},0 ${W},${H} ${edgeX(rightBreak, xR, H)},${H}`);

function panel(clipId, sx, x0, x1, points) {
  const g = svg.append("g").attr("clip-path", `url(#${clipId})`);
  // top / bottom spines
  [2630, 2580].forEach(v => {
    g.append("line").attr("x1", sx(x0)).attr("x2", sx(x1)).attr("y1", y(v)).attr("y2", y(v))
      .attr("stroke", spineColor).attr("stroke-width", 1.4);
  });
  g.selectAll("circle").data(points).join("circle")
    .attr("cx", d => sx(d.phase)).attr("cy", d => y(d.gamma)).attr("r", 3.4)
    .attr("fill", dotColor);
  const refs = [
    { v: upperLimit, c: "#e3161c", dash: "13,7" },
    { v: lowerLimit, c: "#13a84a", dash: "13,7" },
    { v: centerLine, c: "#000", dash: null }
  ];
  refs.forEach(r => {
    g.append("line").attr("x1", sx(x0)).attr("x2", sx(x1)).attr("y1", y(r.v)).attr("y2", y(r.v))
      .attr("stroke", r.c).attr("stroke-width", 2.6)
      .attr("stroke-dasharray", r.dash);
  });
  return g;
}

panel("clipL", xL, leftStart, 0, leftPoints);
panel("clipR", xR, 0, rightEnd, rightPoints);

// side spines
svg.append("line").attr("x1", xL(leftStart)).attr("x2", xL(leftStart)).attr("y1", y(2630)).attr("y2", y(2580))
  .attr("stroke", spineColor).attr("stroke-width", 1.4);
svg.append("line").attr("x1", xR(rightEnd)).attr("x2", xR(rightEnd)).attr("y1", y(2630)).attr("y2", y(2580))
  .attr("stroke", spineColor).attr("stroke-width", 1.4);

// axes
const yAxis = svg.append("g").attr("transform", `translate(${xL(leftStart)},0)`)
  .call(d3.axisLeft(y).tickValues(gammaTicks).tickSize(6).tickPadding(7).tickFormat(d3.format("d")));
const xAxisL = svg.append("g").attr("transform", `translate(0,${y(2580)})`)
  .call(d3.axisBottom(xL).tickValues(leftTicks).tickSize(5).tickPadding(20)
    .tickFormat((d, i) => leftTickLabels[i]));
const xAxisR = svg.append("g").attr("transform", `translate(0,${y(2580)})`)
  .call(d3.axisBottom(xR).tickValues(rightTicks).tickSize(5).tickPadding(20)
    .tickFormat((d, i) => rightTickLabels[i]));
[yAxis, xAxisL, xAxisR].forEach(a => {
  a.select(".domain").remove();
  a.selectAll(".tick line").attr("stroke", spineColor).attr("stroke-width", 1.4);
  a.selectAll(".tick text").attr("fill", "#2b2b2b")
    .style("font-family", "'DejaVu Sans', sans-serif");
});
yAxis.selectAll(".tick text").style("font-size", "16px");
[xAxisL, xAxisR].forEach(a => {
  a.selectAll(".tick text").style("font-size", "16px")
    .append("tspan").style("font-family", "'Liberation Serif', serif").style("font-size", "19px")
    .text("π");
});

// slanted break marks
[[leftBreak, xL], [rightBreak, xR]].forEach(([br, sx]) => {
  svg.append("line")
    .attr("x1", sx(br[0][0])).attr("y1", y(br[0][1]))
    .attr("x2", sx(br[1][0])).attr("y2", y(br[1][1]))
    .attr("stroke", "#4a66c4").attr("stroke-width", 1)
    .attr("stroke-dasharray", "2.5,2");
});

// block arrows
function blockArrow(sx, a, shaftHalf, headHalf, headLen) {
  const cx = sx(a[0]), tail = y(a[1]), tip = y(a[2]);
  const dir = tip < tail ? -1 : 1;
  const base = tip - dir * headLen;
  const pts = [
    [cx - shaftHalf, tail], [cx - shaftHalf, base], [cx - headHalf, base],
    [cx, tip], [cx + headHalf, base], [cx + shaftHalf, base], [cx + shaftHalf, tail]
  ];
  svg.append("polygon").attr("points", pts.map(p => p.join(",")).join(" "))
    .attr("fill", "#4472c4").attr("stroke", "#2f4f8f").attr("stroke-width", 1.2)
    .attr("stroke-linejoin", "miter");
}
blockArrow(xL, arrowUp, 8, 16.2, 17);
blockArrow(xR, arrowDown, 7.7, 19.5, 18.6);

// labels
svg.append("text").attr("transform", "translate(22,261) rotate(-90)")
  .attr("text-anchor", "middle").attr("fill", "#333")
  .style("font-family", "'DejaVu Sans', sans-serif").style("font-size", "12px")
  .text("gamma");
svg.append("text").attr("x", 668).attr("y", 534).attr("text-anchor", "middle")
  .style("font-family", "Lato, sans-serif").style("font-weight", "bold").style("font-size", "20px")
  .text("phase");
svg.append("text").attr("x", 101).attr("y", 466)
  .style("font-family", "Lato, sans-serif").style("font-size", "25px")
  .text("Rest of the electron bunch");
svg.append("text").attr("x", 1230).attr("y", 51).attr("text-anchor", "end")
  .style("font-family", "Lato, sans-serif").style("font-size", "25px")
  .text("Bunch head");
</script>
</body>
</html>
